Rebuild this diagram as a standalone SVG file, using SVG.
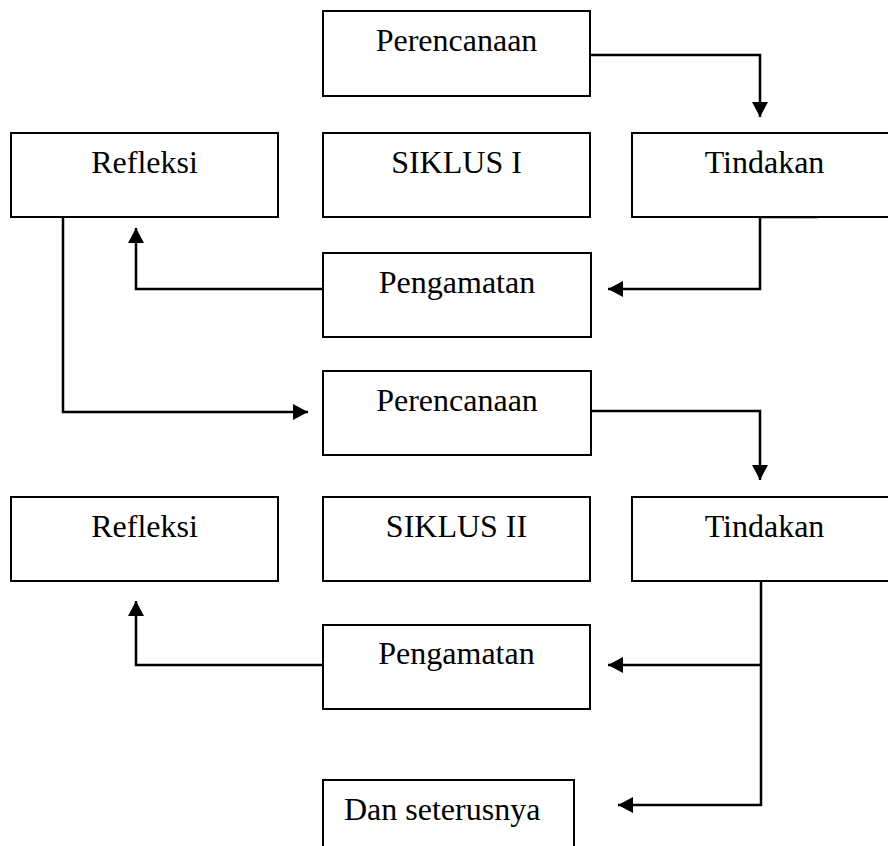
<svg xmlns="http://www.w3.org/2000/svg" width="888" height="846" viewBox="0 0 888 846">
<style>
.box{fill:#fff;stroke:#000;stroke-width:2}
.lbl{font-family:"Liberation Serif","Times New Roman",serif;font-size:32px;fill:#000;text-anchor:middle}
.con{fill:none;stroke:#000;stroke-width:2.5;marker-end:url(#ah)}
</style>
<defs>
<marker id="ah" viewBox="0 0 15 16" refX="15" refY="8" markerWidth="15" markerHeight="16" markerUnits="userSpaceOnUse" orient="auto">
<path d="M0,0 L15,8 L0,16 z" fill="#000"/>
</marker>
</defs>
<rect width="888" height="846" fill="#fff"/>
<g id="connectors">
<path class="con" d="M590 55 H760 V117"/>
<path class="con" d="M818 217 H760 V289 H608"/>
<path class="con" d="M323 289 H136 V228"/>
<path class="con" d="M63 217 V412 H308"/>
<path class="con" d="M591 411 H760 V480"/>
<path class="con" d="M761 581 V805 H618"/>
<path class="con" d="M761 665 H608"/>
<path class="con" d="M323 665 H136 V601"/>
</g>
<g id="perencanaan1"><rect class="box" x="323" y="11" width="267" height="85"/><text class="lbl" x="456.5" y="51">Perencanaan</text></g>
<g id="refleksi1"><rect class="box" x="11" y="133" width="267" height="84"/><text class="lbl" x="144.5" y="173">Refleksi</text></g>
<g id="siklus1"><rect class="box" x="323" y="133" width="267" height="84"/><text class="lbl" x="456.5" y="173">SIKLUS I</text></g>
<g id="tindakan1"><rect class="box" x="632" y="133" width="265" height="84"/><text class="lbl" x="764.5" y="173">Tindakan</text></g>
<g id="pengamatan1"><rect class="box" x="323" y="253" width="268" height="84"/><text class="lbl" x="457" y="293">Pengamatan</text></g>
<g id="perencanaan2"><rect class="box" x="323" y="371" width="268" height="84"/><text class="lbl" x="457" y="411">Perencanaan</text></g>
<g id="refleksi2"><rect class="box" x="11" y="497" width="267" height="84"/><text class="lbl" x="144.5" y="537">Refleksi</text></g>
<g id="siklus2"><rect class="box" x="323" y="497" width="267" height="84"/><text class="lbl" x="456.5" y="537">SIKLUS II</text></g>
<g id="tindakan2"><rect class="box" x="632" y="497" width="265" height="84"/><text class="lbl" x="764.5" y="537">Tindakan</text></g>
<g id="pengamatan2"><rect class="box" x="323" y="625" width="267" height="84"/><text class="lbl" x="456.5" y="664">Pengamatan</text></g>
<g id="dan-seterusnya"><rect class="box" x="323" y="780" width="251" height="80"/><text class="lbl" x="344" y="820" style="text-anchor:start">Dan seterusnya</text></g>
</svg>
